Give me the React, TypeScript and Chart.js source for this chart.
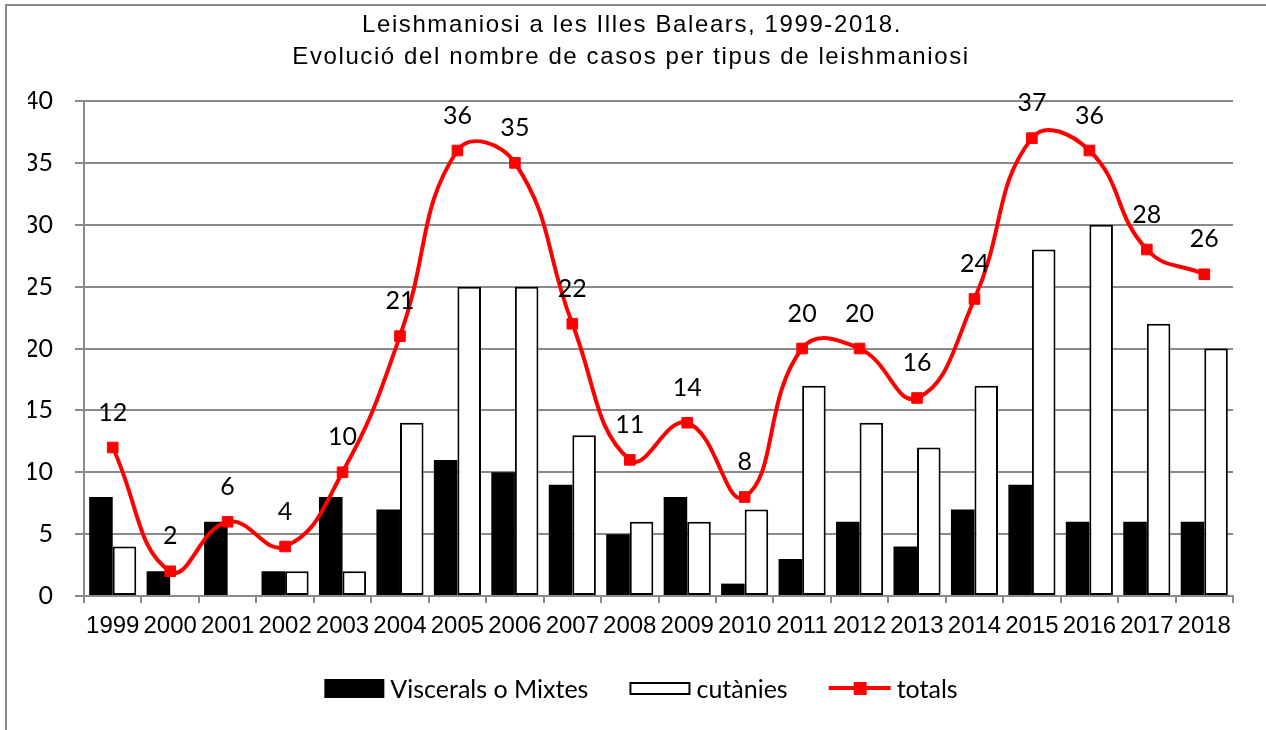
import React, { useEffect, useRef } from 'react';
import { Chart, registerables } from 'chart.js';

Chart.register(...registerables);

const years = ['1999', '2000', '2001', '2002', '2003', '2004', '2005', '2006', '2007', '2008', '2009', '2010', '2011', '2012', '2013', '2014', '2015', '2016', '2017', '2018'];
const viscerals = [8, 2, 6, 2, 8, 7, 11, 10, 9, 5, 8, 1, 3, 6, 4, 7, 9, 6, 6, 6];
const cutanies = [4, 0, 0, 2, 2, 14, 25, 25, 13, 6, 6, 7, 17, 14, 12, 17, 28, 30, 22, 20];
const totals = [12, 2, 6, 4, 10, 21, 36, 35, 22, 11, 14, 8, 20, 20, 16, 24, 37, 36, 28, 26];
const seriesNames = ['Viscerals o Mixtes', 'cutànies', 'totals'];
const titleLines = ['Leishmaniosi a les Illes Balears, 1999-2018.', 'Evolució del nombre de casos per tipus de leishmaniosi'];
const yMin = 0;
const yMax = 40;
const yStep = 5;

const GRID = '#8a8a8a';
const RED = '#ff0000';

const framePlugin = {
  id: 'frameTitle',
  beforeDraw(chart: any) {
    const ctx = chart.ctx;
    ctx.save();
    ctx.fillStyle = '#ffffff';
    ctx.fillRect(0, 0, chart.width, chart.height);
    ctx.fillStyle = GRID;
    ctx.fillRect(5, 4, 2, chart.height);
    ctx.fillRect(5, 4, chart.width, 2);
    ctx.restore();
  },
  afterDraw(chart: any) {
    const ctx = chart.ctx;
    ctx.save();
    ctx.fillStyle = '#000';
    ctx.font = '24px "Liberation Sans", Arial, sans-serif';
    (ctx as any).letterSpacing = '1.6px';
    ctx.textAlign = 'center';
    ctx.textBaseline = 'alphabetic';
    ctx.fillText(titleLines[0], 632, 32);
    ctx.fillText(titleLines[1], 631, 64);
    ctx.restore();
  },
};

const dataLabelPlugin = {
  id: 'totalsLabels',
  afterDatasetsDraw(chart: any) {
    const ctx = chart.ctx;
    const idx = chart.data.datasets.findIndex((d: any) => d.type === 'line');
    const meta = chart.getDatasetMeta(idx);
    const data = chart.data.datasets[idx].data;
    ctx.save();
    ctx.fillStyle = '#000';
    ctx.font = '25px Lato, "Open Sans", sans-serif';
    ctx.textAlign = 'center';
    ctx.textBaseline = 'middle';
    meta.data.forEach((el: any, i: number) => {
      ctx.fillText(String(data[i]), el.x, el.y - 35);
    });
    ctx.restore();
  },
};

const legendPlugin = {
  id: 'customLegend',
  afterDraw(chart: any) {
    const ctx = chart.ctx;
    const ds = chart.data.datasets;
    ctx.save();
    ctx.font = '25px Lato, "Open Sans", sans-serif';
    ctx.textBaseline = 'alphabetic';
    ctx.textAlign = 'left';
    const cy = 688;
    const items = [
      {
        label: ds[1].label,
        w: 60,
        draw: (x: number) => {
          ctx.fillStyle = ds[1].backgroundColor;
          ctx.fillRect(x, cy - 9, 60, 19);
        },
      },
      {
        label: ds[2].label,
        w: 61,
        draw: (x: number) => {
          ctx.fillStyle = ds[2].backgroundColor;
          ctx.fillRect(x, cy - 6, 61, 13);
          ctx.strokeStyle = ds[2].borderColor;
          ctx.lineWidth = 2;
          ctx.strokeRect(x + 1, cy - 5, 59, 11);
        },
      },
      {
        label: ds[0].label,
        w: 62,
        draw: (x: number) => {
          ctx.strokeStyle = ds[0].borderColor;
          ctx.lineWidth = 4;
          ctx.beginPath();
          ctx.moveTo(x, cy);
          ctx.lineTo(x + 62, cy);
          ctx.stroke();
          ctx.fillStyle = ds[0].pointBackgroundColor;
          ctx.fillRect(x + 25, cy - 6, 13, 13);
        },
      },
    ];
    const gapText = 6;
    const gapItem = 41;
    let total = 0;
    items.forEach((it, i) => {
      total += it.w + gapText + ctx.measureText(it.label).width + (i < items.length - 1 ? gapItem : 0);
    });
    let x = 641 - total / 2;
    items.forEach((it) => {
      it.draw(x);
      ctx.fillStyle = '#000';
      ctx.fillText(it.label, x + it.w + gapText, 698);
      x += it.w + gapText + ctx.measureText(it.label).width + gapItem;
    });
    ctx.restore();
  },
};

export default function App() {
  const ref = useRef<HTMLCanvasElement | null>(null);

  useEffect(() => {
    document.body.style.margin = '0';
    const canvas = ref.current;
    if (!canvas) return;
    const chart = new Chart(canvas, {
      type: 'bar',
      data: {
        labels: years,
        datasets: [
          {
            type: 'line',
            label: seriesNames[2],
            data: totals,
            borderColor: RED,
            backgroundColor: RED,
            pointBackgroundColor: RED,
            pointBorderColor: RED,
            borderWidth: 4,
            pointStyle: 'rect',
            pointRadius: 7.5,
            pointBorderWidth: 1,
            tension: 0.45,
            fill: false,
            order: 0,
          } as any,
          {
            type: 'bar',
            label: seriesNames[0],
            data: viscerals,
            backgroundColor: '#000000',
            borderWidth: 0,
            categoryPercentage: 0.82,
            barPercentage: 1.0,
            order: 1,
          },
          {
            type: 'bar',
            label: seriesNames[1],
            data: cutanies,
            backgroundColor: '#ffffff',
            borderColor: '#000000',
            borderWidth: 2,
            borderSkipped: false,
            categoryPercentage: 0.82,
            barPercentage: 1.0,
            order: 2,
          },
        ],
      },
      options: {
        responsive: false,
        animation: false,
        layout: { padding: { top: 101, left: 28, right: 33, bottom: 80 } },
        plugins: {
          legend: { display: false },
          title: { display: false },
          tooltip: { enabled: false },
        },
        scales: {
          x: {
            ticks: {
              color: '#000',
              font: { family: '"Liberation Sans", Arial, sans-serif', size: 24 },
              padding: 9,
              maxRotation: 0,
              autoSkip: false,
            },
            grid: {
              display: true,
              drawOnChartArea: false,
              color: GRID,
              lineWidth: 2,
              tickLength: 7,
              offset: true,
            },
            border: { color: GRID, width: 2 },
            afterFit: (s: any) => {
              s.height = 54;
            },
          },
          y: {
            min: yMin,
            max: yMax,
            ticks: {
              stepSize: yStep,
              color: '#000',
              font: { family: 'Lato, "Open Sans", sans-serif', size: 25 },
              padding: 22,
            },
            grid: { color: GRID, lineWidth: 2, tickLength: 9 },
            border: { color: GRID, width: 2 },
            afterFit: (s: any) => {
              s.width = 56;
            },
          },
        },
      },
      plugins: [framePlugin, dataLabelPlugin, legendPlugin],
    });
    return () => chart.destroy();
  }, []);

  return (
    <div style={{ width: 1266, height: 730 }}>
      <canvas ref={ref} width={1266} height={730} style={{ display: 'block' }} />
    </div>
  );
}
